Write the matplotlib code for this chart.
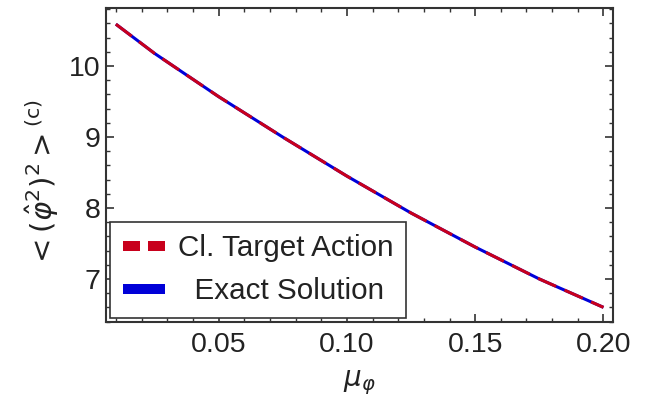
import matplotlib
matplotlib.use("Agg")
import matplotlib.pyplot as plt
from matplotlib.lines import Line2D
from matplotlib.ticker import MultipleLocator, FormatStrFormatter

# Connected correlator <(phi^2)^2>^(c) against mu_phi
mu_phi = [0.01, 0.025, 0.05, 0.075, 0.10, 0.125, 0.15, 0.175, 0.20]
target_action = [10.59, 10.18, 9.57, 9.00, 8.45, 7.93, 7.45, 7.00, 6.60]
exact_solution = [10.59, 10.18, 9.57, 9.00, 8.45, 7.93, 7.45, 7.00, 6.60]

x_ticks = [0.05, 0.10, 0.15, 0.20]
y_ticks = [7, 8, 9, 10]

red = "#c8001c"
blue = "#0000d8"
frame = "#333333"
ink = "#222222"

plt.rcParams["font.family"] = ["Liberation Sans", "DejaVu Sans"]
plt.rcParams["mathtext.fontset"] = "dejavusans"

fig = plt.figure(figsize=(6.51, 4.03), dpi=100)
ax = fig.add_axes([0.163, 0.201, 0.779, 0.779])

ax.plot(mu_phi, exact_solution, color=blue, lw=2.2, solid_capstyle="butt", zorder=3)
ax.plot(mu_phi, target_action, color=red, lw=2.2, dashes=(6.5, 3.0), zorder=4)

ax.set_xlim(0.0062, 0.2038)
ax.set_ylim(6.394, 10.817)

ax.set_xticks(x_ticks)
ax.set_yticks(y_ticks)
ax.xaxis.set_major_formatter(FormatStrFormatter("%.2f"))
ax.xaxis.set_minor_locator(MultipleLocator(0.01))
ax.yaxis.set_minor_locator(MultipleLocator(0.2))

ax.tick_params(which="both", direction="in", top=True, right=True,
               color=frame, labelcolor=ink, labelsize=20.5)
ax.tick_params(which="major", length=5.5, width=1.2)
ax.tick_params(which="minor", length=3, width=1.0)
ax.tick_params(axis="x", which="major", pad=7)
ax.tick_params(axis="y", which="major", pad=4)

for sp in ax.spines.values():
    sp.set_color(frame)
    sp.set_linewidth(1.5)

ax.set_xlabel(r"$\mu_{\varphi}$", fontsize=20, color=ink, labelpad=8)
ax.set_ylabel(r"${<}(\hat{\varphi}^2)^2{>}^{(\mathrm{c})}$", fontsize=21,
              color=ink, labelpad=6, y=0.44)

handles = [
    Line2D([], [], color=red, lw=7.2, dashes=(1.7, 0.8), solid_capstyle="butt"),
    Line2D([], [], color=blue, lw=7.2, solid_capstyle="butt"),
]
labels = ["Cl. Target Action", "  Exact Solution"]
leg = ax.legend(handles, labels, loc="lower left",
                bbox_to_anchor=(0.008, 0.014), fontsize=21.3,
                frameon=True, fancybox=False, framealpha=1,
                edgecolor=frame, handlelength=1.45, handletextpad=0.42,
                borderpad=0.42, labelspacing=0.5, borderaxespad=0.0)
leg.get_frame().set_linewidth(1.2)
for t in leg.get_texts():
    t.set_color(ink)

fig.savefig("out.png", dpi=100)
